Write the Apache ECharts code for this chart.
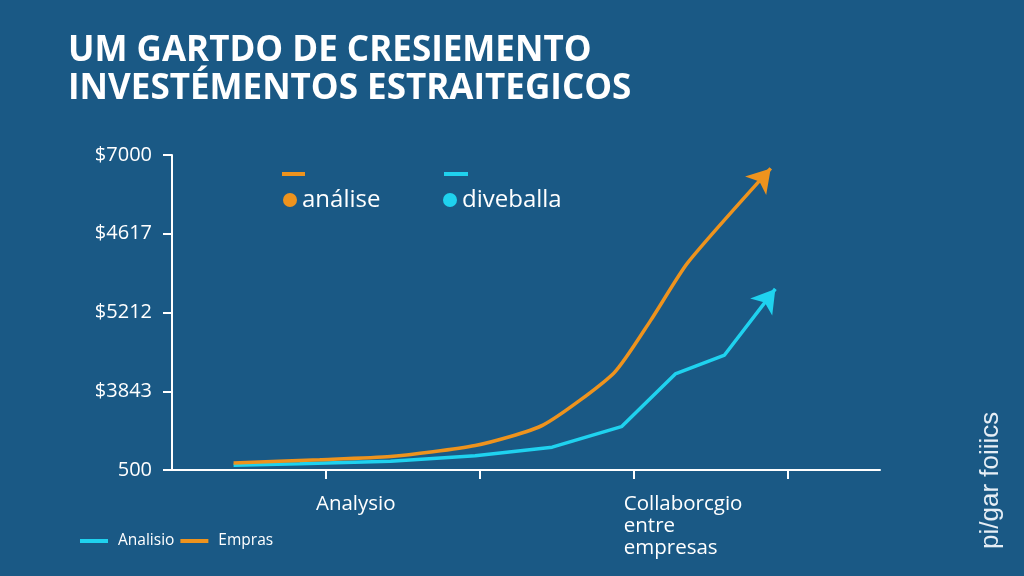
<!DOCTYPE html>
<html>
<head>
<meta charset="utf-8">
<script src="https://cdn.jsdelivr.net/npm/echarts@6/dist/echarts.min.js"></script>
<style>
html,body{margin:0;padding:0;background:#1a5985;}
#c{width:1024px;height:576px;}
</style>
</head>
<body>
<div id="c"></div>
<script>
// ---- data ----
const titleLines = ["UM GARTDO DE CRESIEMENTO", "INVESTÉMENTOS ESTRAITEGICOS"];
const yTickLabels = ["500", "$3843", "$5212", "$4617", "$7000"];
const xTickValues = [1, 2, 3, 4];
const xLabelValues = [1, 3];
const xLabels = {1: "Analysio", 3: "Collaborcgio\nentre\nempresas"};
// orange series (Empras / análise)
const orangeX = [0.40, 0.96, 1.42, 1.97, 2.41, 2.87, 3.11, 3.35, 3.89];
const orangeY = [0.09, 0.13, 0.17, 0.31, 0.57, 1.23, 1.90, 2.63, 3.83];
// cyan series (Analisio / diveballa)
const cyanX = [0.40, 0.83, 1.42, 1.97, 2.47, 2.92, 3.27, 3.59, 3.92];
const cyanY = [0.06, 0.08, 0.11, 0.18, 0.29, 0.55, 1.22, 1.46, 2.30];
const sideNote = "pi/gar foiiics";

const ORANGE = '#ee931d';
const CYAN = '#1fd2ef';
const BG = '#1a5985';

function build(xs, ys, rot) {
  return xs.map((x, i) => {
    const item = {value: [x, ys[i]]};
    if (i === xs.length - 1) {
      item.symbol = 'arrow';
      item.symbolSize = [21, 23];
      item.symbolRotate = rot;
    }
    return item;
  });
}

const chart = echarts.init(document.getElementById('c'));
chart.setOption({
  backgroundColor: BG,
  animation: false,
  title: {
    text: titleLines.join('\n'),
    left: 63, top: 27,
    textStyle: {color: '#ffffff', fontFamily: 'Open Sans', fontWeight: 'bold', fontSize: 35, lineHeight: 38}
  },
  grid: {left: 172, right: 144, top: 155, bottom: 106, outerBoundsMode: 'none'},
  xAxis: {
    type: 'value', min: 0, max: 4.6,
    splitLine: {show: false},
    axisLine: {show: true, lineStyle: {color: '#ffffff', width: 2}},
    axisTick: {show: true, customValues: xTickValues, length: 9, lineStyle: {color: '#ffffff', width: 2}},
    axisLabel: {
      customValues: xLabelValues, align: 'left', margin: 23, padding: [0, 0, 0, -10],
      color: '#ffffff', fontFamily: 'Open Sans', fontSize: 20.5, lineHeight: 22,
      formatter: v => xLabels[Math.round(v)] || ''
    }
  },
  yAxis: {
    type: 'value', min: 0, max: 4, interval: 1,
    splitLine: {show: false},
    axisLine: {show: true, lineStyle: {color: '#ffffff', width: 2}},
    axisTick: {show: true, length: 9, lineStyle: {color: '#ffffff', width: 2}},
    axisLabel: {
      margin: 20, color: '#ffffff', fontFamily: 'Open Sans', fontSize: 20,
      formatter: v => yTickLabels[Math.round(v)]
    }
  },
  legend: [
    {data: ['análise'], left: 282, top: 172, padding: 0, icon: 'rect', itemWidth: 23, itemHeight: 4, formatter: () => '', selectedMode: false},
    {data: ['diveballa'], left: 444, top: 172, padding: 0, icon: 'rect', itemWidth: 24, itemHeight: 4, formatter: () => '', selectedMode: false},
    {data: ['análise'], left: 283, top: 187, padding: 0, icon: 'circle', itemWidth: 14, itemHeight: 14, selectedMode: false,
     textStyle: {color: '#ffffff', fontFamily: 'Open Sans', fontSize: 24, lineHeight: 26}},
    {data: ['diveballa'], left: 443, top: 187, padding: 0, icon: 'circle', itemWidth: 14, itemHeight: 14, selectedMode: false,
     textStyle: {color: '#ffffff', fontFamily: 'Open Sans', fontSize: 24, lineHeight: 26}},
    {data: ['Analisio', 'Empras'], left: 80, top: 532, padding: 0, icon: 'rect', itemWidth: 28, itemHeight: 4, itemGap: 6, selectedMode: false,
     textStyle: {color: '#ffffff', fontFamily: 'Open Sans', fontSize: 15.5, lineHeight: 18, padding: [0, 0, 0, 5]}}
  ],
  series: [
    {
      name: 'Empras', type: 'line', smooth: 0.2, symbol: 'none', showSymbol: true,
      data: build(orangeX, orangeY, -41),
      lineStyle: {color: ORANGE, width: 3.5}, itemStyle: {color: ORANGE},
      emphasis: {disabled: true}, z: 3
    },
    {
      name: 'Analisio', type: 'line', symbol: 'none', showSymbol: true,
      data: build(cyanX, cyanY, -38),
      lineStyle: {color: CYAN, width: 3.5}, itemStyle: {color: CYAN},
      emphasis: {disabled: true}, z: 2
    },
    {name: 'análise', type: 'line', data: [], lineStyle: {color: ORANGE}, itemStyle: {color: ORANGE}},
    {name: 'diveballa', type: 'line', data: [], lineStyle: {color: CYAN}, itemStyle: {color: CYAN}}
  ],
  graphic: [{
    type: 'text', x: 991, y: 549, rotation: Math.PI / 2,
    style: {text: sideNote, fill: '#e6eef5', font: '26px "Liberation Sans"', textVerticalAlign: 'middle'}
  }]
});
</script>
</body>
</html>
